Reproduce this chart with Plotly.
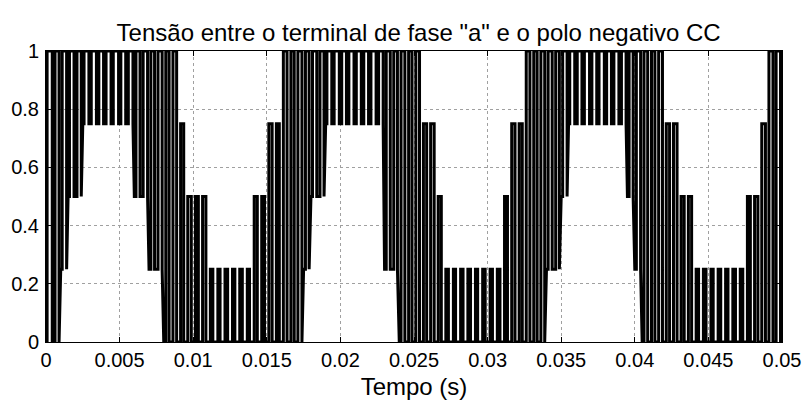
import plotly.graph_objects as go

# ---- data ----
carrier_period = 0.0005  # s, one PWM pulse per period
# per carrier period: lower level, upper level (in quarters of Vdc) and fraction of the period at the upper level
lo_level = [0, 0, 1, 2, 2,
            3, 3, 3, 3, 3, 3, 3,
            2, 2, 1, 1, 0, 0, 0,
            0, 0, 0,
            0, 0, 0, 0, 0, 0,
            0, 0, 0, 0,
            0, 0, 0, 1, 2, 2,
            3, 3, 3, 3, 3, 3, 3, 3,
            1, 1, 0, 0, 0, 0, 0, 0,
            0, 0, 0, 0, 0, 0, 0, 0,
            0, 0, 0, 0, 0, 0, 1, 1, 2,
            3, 3, 3, 3, 3, 3, 3, 3,
            2, 1, 0, 0, 0, 0, 0, 0, 0,
            0, 0, 0, 0, 0, 0, 0,
            0, 0, 0, 0, 0]
hi_level = [4, 4, 4, 4, 4,
            4, 4, 4, 4, 4, 4, 4,
            4, 4, 4, 4, 4, 4, 3,
            2, 2, 2,
            1, 1, 1, 1, 1, 1,
            2, 2, 3, 3,
            4, 4, 4, 4, 4, 4,
            4, 4, 4, 4, 4, 4, 4, 4,
            4, 4, 4, 4, 4, 3, 3, 2,
            1, 1, 1, 1, 1, 1, 1, 1,
            2, 3, 3, 4, 4, 4, 4, 4, 4,
            4, 4, 4, 4, 4, 4, 4, 4,
            4, 4, 4, 4, 4, 3, 3, 2, 2,
            1, 1, 1, 1, 1, 1, 1,
            2, 2, 3, 4, 4]
duty = [0.70, 0.55, 0.60, 0.62, 0.58,
        0.66, 0.70, 0.64, 0.68, 0.72, 0.66, 0.63,
        0.55, 0.60, 0.50, 0.56, 0.45, 0.50, 0.42,
        0.48, 0.40, 0.45,
        0.34, 0.30, 0.36, 0.32, 0.35, 0.30,
        0.42, 0.38, 0.45, 0.40,
        0.50, 0.45, 0.55, 0.50, 0.58, 0.55,
        0.66, 0.70, 0.64, 0.70, 0.68, 0.65, 0.70, 0.62,
        0.55, 0.50, 0.52, 0.46, 0.50, 0.44, 0.48, 0.42,
        0.35, 0.30, 0.33, 0.36, 0.30, 0.34, 0.32, 0.36,
        0.40, 0.45, 0.42, 0.50, 0.46, 0.52, 0.55, 0.50, 0.60,
        0.68, 0.64, 0.70, 0.66, 0.72, 0.65, 0.68, 0.63,
        0.55, 0.58, 0.50, 0.46, 0.52, 0.45, 0.48, 0.42, 0.44,
        0.33, 0.36, 0.30, 0.35, 0.32, 0.36, 0.34,
        0.40, 0.45, 0.50, 0.55, 0.60]

x_tick_vals = [0, 0.005, 0.01, 0.015, 0.02, 0.025, 0.03, 0.035, 0.04, 0.045, 0.05]
x_tick_text = ["0", "0.005", "0.01", "0.015", "0.02", "0.025", "0.03", "0.035", "0.04", "0.045", "0.05"]
y_tick_vals = [0, 0.2, 0.4, 0.6, 0.8, 1]
y_tick_text = ["0", "0.2", "0.4", "0.6", "0.8", "1"]

# ---- build the stepped waveform from the pulse table ----
t, v = [], []
for k in range(len(duty)):
    t0 = k * carrier_period
    lo = lo_level[k] / 4
    hi = hi_level[k] / 4
    rise = t0 + (1 - duty[k]) / 2 * carrier_period
    fall = t0 + (1 + duty[k]) / 2 * carrier_period
    t += [t0, rise, rise, fall, fall]
    v += [lo, lo, hi, hi, lo]
t.append(len(duty) * carrier_period)
v.append(lo_level[-1] / 4)

font = "Liberation Sans, Arial, sans-serif"
fig = go.Figure(go.Scatter(x=t, y=v, mode="lines",
                           line=dict(color="black", width=3), hoverinfo="skip"))

axis_common = dict(showline=True, linecolor="black", linewidth=1, mirror="allticks",
                   ticks="inside", ticklen=5, tickcolor="black",
                   showgrid=True, gridcolor="#a0a0a0", griddash="dot", gridwidth=1,
                   zeroline=False, automargin=False,
                   tickfont=dict(family=font, size=20, color="black"))

fig.update_layout(
    width=802, height=403,
    margin=dict(l=46, r=20, t=51, b=61),
    paper_bgcolor="white", plot_bgcolor="white",
    showlegend=False,
    title=dict(text='Tensão entre o terminal de fase "a" e o polo negativo CC',
               x=0.522, xanchor="center", y=0.918, yanchor="middle",
               font=dict(family=font, size=24, color="black")),
    xaxis=dict(range=[0, 0.05], tickvals=x_tick_vals, ticktext=x_tick_text,
               title=dict(text="Tempo (s)", font=dict(family=font, size=24, color="black"), standoff=8),
               **axis_common),
    yaxis=dict(range=[0, 1], tickvals=y_tick_vals, ticktext=y_tick_text, ticklabelstandoff=2,
               **axis_common),
)

fig.write_html("out.html")
